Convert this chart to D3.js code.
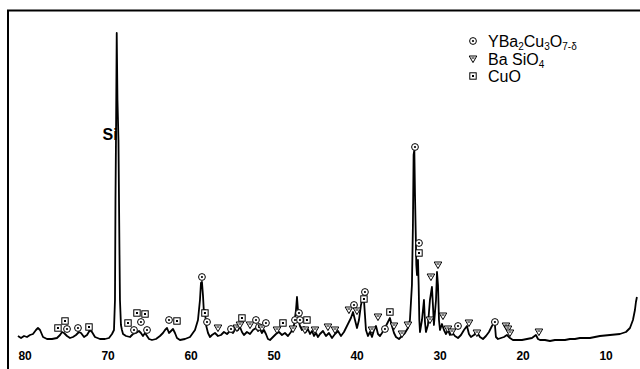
<html>
<head>
<style>
  body { margin: 0; padding: 0; background: white; }
  svg { display: block; }
  text { font-family: "Liberation Sans", Arial, Helvetica, sans-serif; }
</style>
<script src="https://cdn.jsdelivr.net/npm/d3@7"></script>
</head>
<body>
<svg width="640" height="369"></svg>
<script>
// 2-theta (deg) and intensity (arb. units)
const twoTheta = [80.80,80.43,80.07,79.71,79.35,78.99,78.63,78.39,78.14,77.78,77.30,76.70,76.10,75.73,75.49,75.25,74.89,74.53,74.17,73.81,73.45,73.20,72.84,72.48,72.12,71.88,71.52,70.92,70.31,69.83,69.47,69.23,69.11,69.05,68.99,68.90,68.81,68.69,68.57,68.51,68.39,68.27,68.14,67.78,67.30,66.94,66.58,66.22,65.98,65.74,65.49,65.25,65.01,64.65,64.17,63.69,63.33,63.08,62.84,62.60,62.36,62.12,61.88,61.64,61.28,60.68,60.07,59.47,59.11,58.87,58.75,58.63,58.51,58.39,58.27,58.14,57.90,57.66,57.42,57.06,56.70,56.34,55.98,55.61,55.25,54.89,54.53,54.29,54.05,53.81,53.57,53.21,52.84,52.48,52.12,51.88,51.64,51.40,51.16,50.92,50.68,50.43,50.07,49.71,49.35,48.99,48.63,48.27,47.90,47.54,47.30,47.18,47.06,46.94,46.82,46.58,46.34,46.10,45.86,45.61,45.37,45.13,44.89,44.65,44.41,44.05,43.69,43.33,42.96,42.60,42.24,41.88,41.52,41.16,40.92,40.68,40.43,40.19,39.95,39.71,39.47,39.23,39.11,38.99,38.87,38.63,38.39,38.14,37.90,37.66,37.42,37.18,36.94,36.58,36.22,35.98,35.74,35.49,35.25,34.89,34.53,34.17,33.81,33.57,33.33,33.21,33.13,33.04,32.96,32.88,32.80,32.72,32.60,32.52,32.44,32.36,32.12,31.88,31.76,31.64,31.40,31.16,30.92,30.80,30.68,30.43,30.31,30.19,30.07,29.95,29.71,29.47,29.23,28.99,28.75,28.51,28.15,27.78,27.42,27.06,26.70,26.46,26.22,25.86,25.50,25.13,24.77,24.41,24.05,23.69,23.45,23.33,23.21,22.96,22.60,22.24,21.88,21.52,21.16,20.68,20.07,19.47,18.87,18.39,18.14,17.90,17.30,16.70,16.10,15.50,14.89,14.29,13.69,13.09,11.88,10.68,9.47,8.27,7.54,7.06,6.70,6.46,6.34,6.22,6.10];
const intensity = [9,7,9,8,10,11,15,17,15,8,6,6,7,10,13,12,9,7,8,10,13,12,8,10,15,13,8,6,6,7,11,15,45,145,205,312,245,205,95,45,20,15,11,9,8,11,12,14,12,9,12,9,6,5,6,9,12,15,17,12,14,16,12,7,5,6,8,15,25,45,62,63,50,32,35,20,12,8,10,12,9,10,13,11,14,12,17,15,18,13,10,13,11,15,17,14,16,12,15,11,6,5,8,11,13,10,12,9,13,20,35,48,35,23,19,15,18,13,16,11,14,9,12,8,11,14,9,12,7,11,14,9,13,19,23,27,33,25,17,25,40,48,45,30,15,9,13,8,15,19,11,9,12,17,23,27,19,12,8,6,9,12,17,25,60,120,190,195,150,115,80,70,85,60,25,13,25,45,23,13,20,45,58,40,20,45,73,60,25,15,21,15,11,15,10,13,9,7,10,15,19,11,8,10,13,8,6,9,13,19,22,20,8,6,7,8,10,7,5,5,5,6,7,10,6,5,5,4,5,5,5,6,6,7,7,9,10,11,13,17,25,35,43,48];

// reflection markers: position, height above trace, phase
const markTheta = [75.98,75.13,74.89,73.57,72.24,67.54,66.82,66.46,65.49,65.98,65.25,62.60,61.64,58.63,58.27,58.02,56.70,55.13,54.41,54.05,53.81,52.84,52.12,51.76,51.40,50.92,49.59,48.87,47.66,47.42,46.94,46.82,45.98,46.22,45.01,43.45,42.60,40.92,40.31,39.95,38.99,39.11,38.14,37.42,36.58,35.98,35.49,34.53,33.81,32.96,32.48,32.48,31.16,31.04,30.19,29.59,28.99,28.51,27.78,26.46,25.50,23.33,22.00,21.76,21.52,18.03];
const markI =     [17,24,16,17,18,22,15,32,31,23,15,25,24,68,32,23,17,16,17,20,27,20,25,18,17,22,15,22,16,25,32,25,25,15,15,18,15,35,40,34,53,46,15,28,16,33,19,11,20,198,102,92,25,68,80,29,16,13,19,22,12,23,19,16,12,13];
const markPhase = ["s","s","c","c","s","s","c","s","s","c","c","c","s","c","s","c","t","c","t","t","s","t","c","c","t","c","t","s","t","c","c","c","s","t","t","t","t","t","c","t","c","s","t","t","c","s","t","t","t","c","c","s","t","t","t","t","t","t","c","t","t","c","t","t","t","t"];

const xTicks = [80, 70, 60, 50, 40, 30, 20, 10];

const svg = d3.select("svg");

const x = d3.scaleLinear().domain([82, 5.85]).range([8, 640]);
const y = d3.scaleLinear().domain([0, 335]).range([345, 10]);

// frame (left + top only visible)
svg.append("line").attr("x1", 8).attr("x2", 8).attr("y1", 10).attr("y2", 369)
    .attr("stroke", "black").attr("stroke-width", 2);
svg.append("line").attr("x1", 7).attr("x2", 640).attr("y1", 10.5).attr("y2", 10.5)
    .attr("stroke", "black").attr("stroke-width", 2);

// trace
const pts = twoTheta.map((t, i) => [t, intensity[i]]);
svg.append("path")
    .datum(pts)
    .attr("fill", "none")
    .attr("stroke", "black")
    .attr("stroke-width", 1.8)
    .attr("stroke-linejoin", "round")
    .attr("d", d3.line().x(d => x(d[0])).y(d => y(d[1])));

// axis labels, no ticks
const ax = svg.append("g")
    .attr("transform", "translate(0,345)")
    .call(d3.axisBottom(x).tickValues(xTicks).tickSize(0).tickPadding(6.5));
ax.select(".domain").remove();
ax.selectAll("text")
    .attr("font-family", "Liberation Sans, Arial, sans-serif")
    .attr("font-size", 12)
    .attr("font-weight", "bold")
    .attr("fill", "black");

// symbol drawing
function drawMark(g, type) {
  if (type == "c") {
    g.append("circle").attr("r", 3.4).attr("fill", "white").attr("stroke", "black").attr("stroke-width", 1);
    g.append("circle").attr("r", 1.1).attr("fill", "black");
  } else if (type == "t") {
    g.append("path").attr("d", "M-3.8,-3 L3.8,-3 L0,3.6 Z")
        .attr("fill", "white").attr("stroke", "black").attr("stroke-width", 1);
    g.append("line").attr("x1", -1.5).attr("x2", 1.5).attr("y1", -1).attr("y2", -1)
        .attr("stroke", "black").attr("stroke-width", 1);
  } else {
    g.append("rect").attr("x", -3.2).attr("y", -3.2).attr("width", 6.4).attr("height", 6.4)
        .attr("fill", "white").attr("stroke", "black").attr("stroke-width", 1);
    g.append("rect").attr("x", -1).attr("y", -1).attr("width", 2).attr("height", 2).attr("fill", "black");
  }
}

markTheta.forEach((t, i) => {
  const g = svg.append("g").attr("transform", `translate(${x(t)},${y(markI[i])})`);
  drawMark(g, markPhase[i]);
});

// Si label
svg.append("text")
    .attr("x", x(68.9) + 1).attr("y", 140)
    .attr("text-anchor", "end")
    .attr("font-size", 16).attr("font-weight", "bold")
    .text("Si");

// legend
const legend = [
  {type: "c", y: 41},
  {type: "t", y: 59},
  {type: "s", y: 76}
];
legend.forEach(l => {
  const g = svg.append("g").attr("transform", `translate(473,${l.y})`);
  drawMark(g, l.type);
});

const lt1 = svg.append("text").attr("x", 488).attr("y", 47).attr("font-size", 16);
lt1.append("tspan").text("YBa");
lt1.append("tspan").attr("font-size", 10).attr("dy", 3).text("2");
lt1.append("tspan").attr("dy", -3).text("Cu");
lt1.append("tspan").attr("font-size", 10).attr("dy", 3).text("3");
lt1.append("tspan").attr("dy", -3).text("O");
lt1.append("tspan").attr("font-size", 10).attr("dy", 3).text("7-δ");

const lt2 = svg.append("text").attr("x", 488).attr("y", 65).attr("font-size", 16);
lt2.append("tspan").text("Ba SiO");
lt2.append("tspan").attr("font-size", 10).attr("dy", 3).text("4");

svg.append("text").attr("x", 488).attr("y", 82).attr("font-size", 16).text("CuO");
</script>
</body>
</html>
